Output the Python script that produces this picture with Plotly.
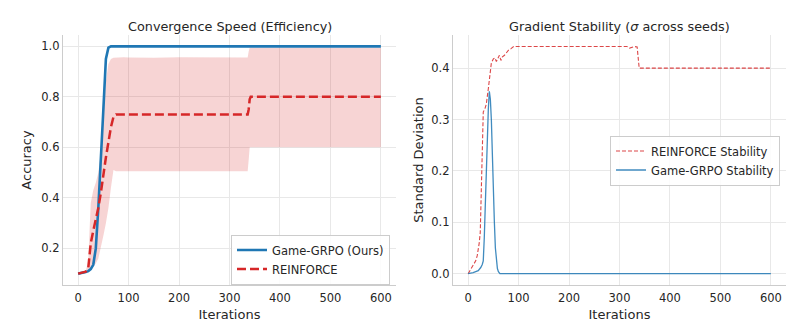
import plotly.graph_objects as go

# ---------------- data ----------------
acc_iter = [0, 5, 10, 15, 20, 25, 30, 35, 40, 45, 50, 55, 60, 65, 70, 75, 80, 90, 100,
            150, 200, 250, 300, 336, 338, 340, 342, 400, 450, 500, 550, 600]
grpo_acc = [0.100, 0.101, 0.103, 0.106, 0.110, 0.118, 0.135, 0.20, 0.36, 0.53, 0.75, 0.95, 0.995, 1.0, 1.0, 1.0, 1.0, 1.0, 1.0,
            1.0, 1.0, 1.0, 1.0, 1.0, 1.0, 1.0, 1.0, 1.0, 1.0, 1.0, 1.0, 1.0]
reinforce_acc = [0.100, 0.102, 0.105, 0.108, 0.12, 0.22, 0.27, 0.31, 0.36, 0.42, 0.50, 0.56, 0.62, 0.68, 0.72, 0.73, 0.73, 0.73, 0.73,
                 0.73, 0.73, 0.73, 0.73, 0.73, 0.75, 0.79, 0.80, 0.80, 0.80, 0.80, 0.80, 0.80]
reinforce_upper = [0.100, 0.101, 0.105, 0.11, 0.15, 0.38, 0.43, 0.46, 0.50, 0.58, 0.72, 0.86, 0.93, 0.95, 0.955, 0.956, 0.955, 0.957, 0.956,
                   0.955, 0.957, 0.956, 0.955, 0.956, 0.98, 0.995, 0.995, 0.995, 0.995, 0.995, 0.995, 0.995]
reinforce_lower = [0.100, 0.101, 0.102, 0.105, 0.11, 0.12, 0.13, 0.14, 0.16, 0.20, 0.25, 0.30, 0.36, 0.44, 0.51, 0.505, 0.505, 0.506, 0.505,
                   0.506, 0.505, 0.506, 0.505, 0.505, 0.55, 0.60, 0.60, 0.60, 0.60, 0.60, 0.60, 0.60]

rstd_iter = [0, 5, 10, 15, 18, 20, 22, 24, 26, 28, 30, 33, 36, 40, 43, 46, 50, 53, 56, 59, 62, 65, 68, 72, 76, 80, 85, 90,
             100, 200, 300, 315, 320, 325, 330, 335, 337, 339, 400, 500, 600]
reinforce_std = [0.0, 0.008, 0.015, 0.025, 0.035, 0.045, 0.06, 0.08, 0.15, 0.27, 0.315, 0.32, 0.33, 0.36, 0.39, 0.41, 0.418, 0.42,
                 0.413, 0.42, 0.425, 0.415, 0.422, 0.425, 0.43, 0.435, 0.438, 0.442,
                 0.442, 0.442, 0.442, 0.442, 0.439, 0.441, 0.442, 0.441, 0.42, 0.40, 0.40, 0.40, 0.40]

gstd_iter = [0, 10, 20, 25, 28, 30, 32, 34, 36, 38, 40, 42, 44, 46, 48, 50, 52, 54, 56, 58, 60, 63, 70, 100, 200, 300, 400, 500, 600]
grpo_std = [0.0, 0.002, 0.006, 0.012, 0.018, 0.025, 0.07, 0.14, 0.20, 0.26, 0.32, 0.355, 0.34, 0.30, 0.22, 0.16, 0.10, 0.05,
            0.025, 0.01, 0.004, 0.0, 0.0, 0.0, 0.0, 0.0, 0.0, 0.0, 0.0]

x_ticks = [0, 100, 200, 300, 400, 500, 600]
acc_ticks = [0.2, 0.4, 0.6, 0.8, 1.0]
std_ticks = [0.0, 0.1, 0.2, 0.3, 0.4]

# ---------------- styling ----------------
BLUE = "#1f77b4"
RED = "#d62728"
FONT = "DejaVu Sans"
TXT = "#262626"
GRID = "#e8e8e8"
SPINE = "#cccccc"

OFF = 8                      # page body margin
W, H = 794 - OFF, 335 - OFF
L, R, T, B = 63 - OFF, 8, 35 - OFF, 50
PW = W - L - R
PH = H - T - B


def px2x(p):                 # p: screen pixel
    return (p - OFF - L) / PW


def px2y(p):
    return (H - B - (p - OFF)) / PH


fig = go.Figure()

# band
fig.add_trace(go.Scatter(x=acc_iter, y=reinforce_upper, mode="lines", line=dict(width=0),
                         showlegend=False, hoverinfo="skip", xaxis="x", yaxis="y"))
fig.add_trace(go.Scatter(x=acc_iter, y=reinforce_lower, mode="lines", line=dict(width=0),
                         fill="tonexty", fillcolor="rgba(214,39,40,0.2)",
                         showlegend=False, hoverinfo="skip", xaxis="x", yaxis="y"))
fig.add_trace(go.Scatter(x=acc_iter, y=grpo_acc, mode="lines", name="Game-GRPO (Ours)",
                         line=dict(color=BLUE, width=2.6), xaxis="x", yaxis="y", legend="legend"))
fig.add_trace(go.Scatter(x=acc_iter, y=reinforce_acc, mode="lines", name="REINFORCE",
                         line=dict(color=RED, width=2.5, dash="9px,4px"), xaxis="x", yaxis="y", legend="legend"))

fig.add_trace(go.Scatter(x=rstd_iter, y=reinforce_std, mode="lines", name="REINFORCE Stability",
                         line=dict(color="rgba(214,39,40,0.85)", width=1.1, dash="4px,2px"),
                         xaxis="x2", yaxis="y2", legend="legend2"))
fig.add_trace(go.Scatter(x=gstd_iter, y=grpo_std, mode="lines", name="Game-GRPO Stability",
                         line=dict(color="rgba(31,119,180,0.85)", width=1.3),
                         xaxis="x2", yaxis="y2", legend="legend2"))

axis_common = dict(showgrid=True, gridcolor=GRID, gridwidth=1, zeroline=False, automargin=False,
                   showline=True, linecolor=SPINE, linewidth=1.2, ticks="",
                   tickfont=dict(family=FONT, size=11.5, color=TXT))

fig.update_layout(
    width=W, height=H,
    margin=dict(l=L, r=R, t=T, b=B, autoexpand=False),
    paper_bgcolor="white",
    plot_bgcolor="white",
    font=dict(family=FONT, color=TXT),
    xaxis=dict(domain=[0, px2x(396)], range=[-30, 630], tickvals=x_ticks, anchor="y", ticklabelstandoff=2,
               title=dict(text="Iterations", font=dict(family=FONT, size=13, color=TXT), standoff=5),
               **axis_common),
    yaxis=dict(domain=[0, 1], range=[0.055, 1.045], tickvals=acc_ticks, tickformat=".1f", anchor="x",
               title=dict(text="Accuracy", font=dict(family=FONT, size=13, color=TXT), standoff=6),
               **axis_common),
    xaxis2=dict(domain=[px2x(453), 1], range=[-30, 630], tickvals=x_ticks, anchor="y2", ticklabelstandoff=2,
                title=dict(text="Iterations", font=dict(family=FONT, size=13, color=TXT), standoff=5),
                **axis_common),
    yaxis2=dict(domain=[0, 1], range=[-0.022, 0.4645], tickvals=std_ticks, tickformat=".1f", anchor="x2",
                title=dict(text="Standard Deviation", font=dict(family=FONT, size=13, color=TXT), standoff=4),
                **axis_common),
    legend=dict(x=px2x(390), y=px2y(259.5), xanchor="right", yanchor="middle", traceorder="normal",
                bgcolor="rgba(255,255,255,0.85)", bordercolor=SPINE, borderwidth=1,
                font=dict(family=FONT, size=11.5, color=TXT), tracegroupgap=0, itemwidth=30),
    legend2=dict(x=px2x(780), y=px2y(160.5), xanchor="right", yanchor="middle", traceorder="normal",
                 bgcolor="rgba(255,255,255,0.85)", bordercolor=SPINE, borderwidth=1,
                 font=dict(family=FONT, size=11.5, color=TXT), tracegroupgap=0, itemwidth=30),
    annotations=[
        dict(text="Convergence Speed (Efficiency)", xref="paper", yref="paper",
             x=px2x(229.5), y=px2y(27), xanchor="center", yanchor="middle", showarrow=False,
             font=dict(family=FONT, size=12.8, color=TXT)),
        dict(text="Gradient Stability (<i>σ</i> across seeds)", xref="paper", yref="paper",
             x=px2x(619.5), y=px2y(27), xanchor="center", yanchor="middle", showarrow=False,
             font=dict(family=FONT, size=12.8, color=TXT)),
    ],
)

fig.write_html("out.html")
